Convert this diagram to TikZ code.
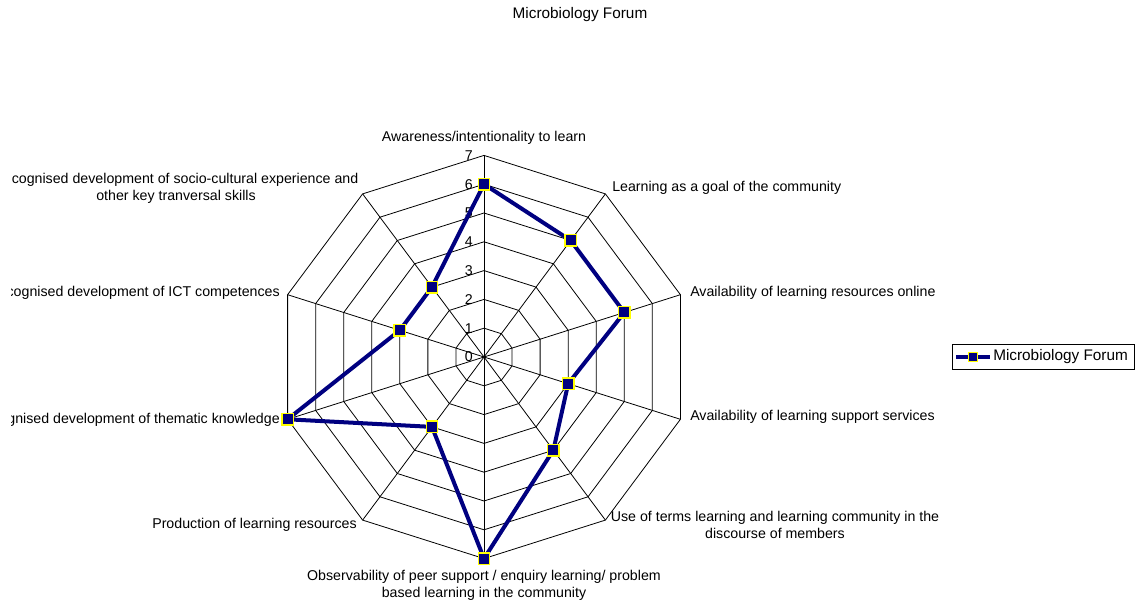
\documentclass[tikz,border=0pt]{standalone}
\usepackage{fontspec}
\setmainfont{Liberation Sans}
\usetikzlibrary{positioning}

\definecolor{seriesblue}{RGB}{0,0,128}
\definecolor{markyellow}{RGB}{255,255,0}

\tikzset{
  gridline/.style={black, line width=0.6pt},
  seriesline/.style={seriesblue, line width=3pt},
  datamark/.style={rectangle, draw=markyellow, fill=seriesblue, line width=1.1pt,
    minimum size=8.6pt, inner sep=0pt},
  axislabel/.style={font=\fontsize{10.65}{12.8}\selectfont, inner sep=0pt},
  ticklabel/.style={font=\fontsize{10.65}{12.8}\selectfont, inner sep=0pt, anchor=east}
}

\begin{document}
\begin{tikzpicture}[x=0.75pt,y=0.75pt]
\useasboundingbox (0,0) rectangle (1136,603);

\coordinate (O) at (484,246);

% rings and spokes
\foreach \r in {1,...,7}
  \draw[gridline] (484,{246+28.8*\r})
    \foreach \a in {54,18,...,-234}{ -- ({484+29.5*\r*cos(\a)},{246+28.8*\r*sin(\a)}) } -- cycle;
\foreach \a [count=\i] in {90,54,...,-234}{
  \coordinate (s\i) at ({484+29.5*7*cos(\a)},{246+28.8*7*sin(\a)});
  \draw[gridline] (O) -- (s\i);
}

% scale
\foreach \r in {0,...,7}
  \node[ticklabel] (t\r) at (473,{246+28.8*\r}) {\r};

% series
\foreach \v [count=\i] in {6,5,5,3,4,7,3,7,3,3}
  \coordinate (p\i) at ({484+29.5*\v*cos(126-36*\i)},{246+28.8*\v*sin(126-36*\i)});
\draw[seriesline] (p1) -- (p2) -- (p3) -- (p4) -- (p5) -- (p6) -- (p7) -- (p8) -- (p9) -- (p10) -- cycle;
\foreach \i in {1,...,10}
  \node[datamark] (m\i) at (p\i) {};

% axis labels
\node[axislabel] (l1) at (484,465) {Awareness/intentionality to learn};
\node[axislabel, anchor=west] (l2) at (612,415) {Learning as a goal of the community};
\node[axislabel, anchor=west] (l3) at (690,310) {Availability of learning resources online};
\node[axislabel, anchor=west] (l4) at (690,186) {Availability of learning support services};
\node[axislabel, align=center] (l5) at (775,78) {Use of terms learning and learning community in the\\discourse of members};
\node[axislabel, align=center] (l6) at (484,18) {Observability of peer support / enquiry learning/ problem\\based learning in the community};
\node[axislabel, anchor=east] (l7) at (357,78) {Production of learning resources};
\begin{scope}
\clip (11,0) rectangle (1136,603);
\node[axislabel, anchor=east] (l8) at (280,183) {Recognised development of thematic knowledge};
\node[axislabel, anchor=east] (l9) at (280,310) {Recognised development of ICT competences};
\node[axislabel, align=center] (l10) at (176,415) {Recognised development of socio-cultural experience and\\other key tranversal skills};
\end{scope}

% title
\node[font=\fontsize{11.5}{14}\selectfont] (title) at (580,588) {Microbiology Forum};

% legend
\node[draw=black, line width=0.6pt, minimum width=136.5pt, minimum height=18.75pt, inner sep=0pt] (legend) at (1043,246) {};
\coordinate (la) at (956,246);
\coordinate (lb) at (990,246);
\draw[seriesline] (la) -- (lb);
\node[datamark, minimum size=6.5pt] (lm) at (973,246) {};
\node[font=\fontsize{11.5}{14}\selectfont, inner sep=0pt, anchor=west] (ltext) at (993,246) {Microbiology Forum};

\end{tikzpicture}
\end{document}
